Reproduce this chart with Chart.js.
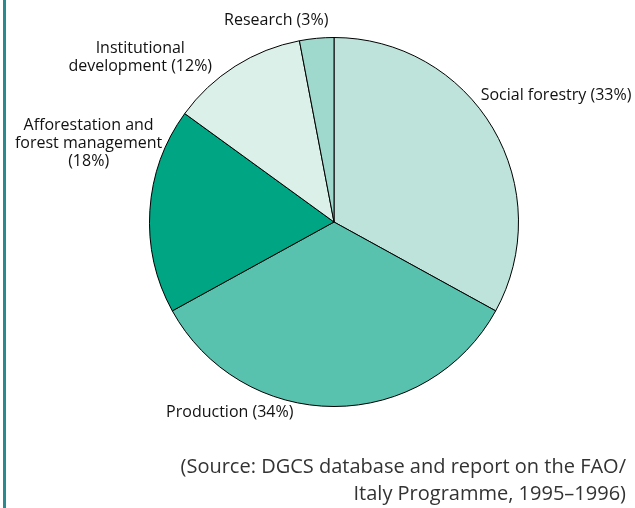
<!DOCTYPE html>
<html>
<head>
<meta charset="utf-8">
<script src="https://cdn.jsdelivr.net/npm/chart.js@4"></script>
<style>
  html, body { margin: 0; padding: 0; background: #fff; }
  #wrap { position: relative; width: 635px; height: 508px; }
  #edge { position: absolute; left: 3px; top: 0; width: 3px; height: 508px; background: #2b8a8f; }
  #source { position: absolute; right: 9px; top: 452px; text-align: right; white-space: nowrap;
            font-family: "Open Sans", "Noto Sans", sans-serif; font-size: 20px; line-height: 27px; color: #333; }
</style>
</head>
<body>
<div id="wrap">
  <canvas id="pie" width="635" height="508"></canvas>
  <div id="edge"></div>
  <div id="source">(Source: DGCS database and report on the FAO/<br>Italy Programme, 1995–1996)</div>
</div>
<script>
// shares of the programme budget, clockwise from the top
const categories = ['Social forestry', 'Production', 'Afforestation and forest management', 'Institutional development', 'Research'];
const shares = [33, 34, 18, 12, 3];
const colours = ['#bee3da', '#59c2ae', '#00a583', '#dcf0ea', '#9fd8cc'];

// label text lines, and where they sit relative to the pie (in radii from centre)
const labelLines = [
  ['Social forestry (33%)'],
  ['Production (34%)'],
  ['Afforestation and', 'forest management', '(18%)'],
  ['Institutional', 'development (12%)'],
  ['Research (3%)']
];
const labelSpots = [
  { dx: 0.795, dy: -0.685, align: 'left' },
  { dx: -0.91, dy: 1.033, align: 'left' },
  { dx: -1.33, dy: -0.525, align: 'center' },
  { dx: -1.05, dy: -0.94, align: 'center' },
  { dx: -0.313, dy: -1.095, align: 'center' }
];

const pieLabels = {
  id: 'pieLabels',
  afterDraw(chart) {
    const arc = chart.getDatasetMeta(0).data[0];
    const cx = arc.x, cy = arc.y, r = arc.outerRadius;
    const ctx = chart.ctx;
    ctx.save();
    ctx.font = '16px "Open Sans", "Noto Sans", sans-serif';
    ctx.fillStyle = '#111';
    ctx.textBaseline = 'middle';
    labelLines.forEach((lines, i) => {
      const s = labelSpots[i];
      ctx.textAlign = s.align;
      lines.forEach((t, j) => {
        ctx.fillText(t, cx + s.dx * r, cy + s.dy * r + j * 18);
      });
    });
    ctx.restore();
  }
};

new Chart(document.getElementById('pie'), {
  type: 'pie',
  data: {
    labels: categories,
    datasets: [{
      data: shares,
      backgroundColor: colours,
      borderColor: '#000',
      borderWidth: 1
    }]
  },
  options: {
    responsive: false,
    animation: false,
    layout: { padding: { top: 37, bottom: 101, left: 149, right: 116 } },
    plugins: {
      legend: { display: false },
      tooltip: { enabled: false }
    }
  },
  plugins: [pieLabels]
});
</script>
</body>
</html>
